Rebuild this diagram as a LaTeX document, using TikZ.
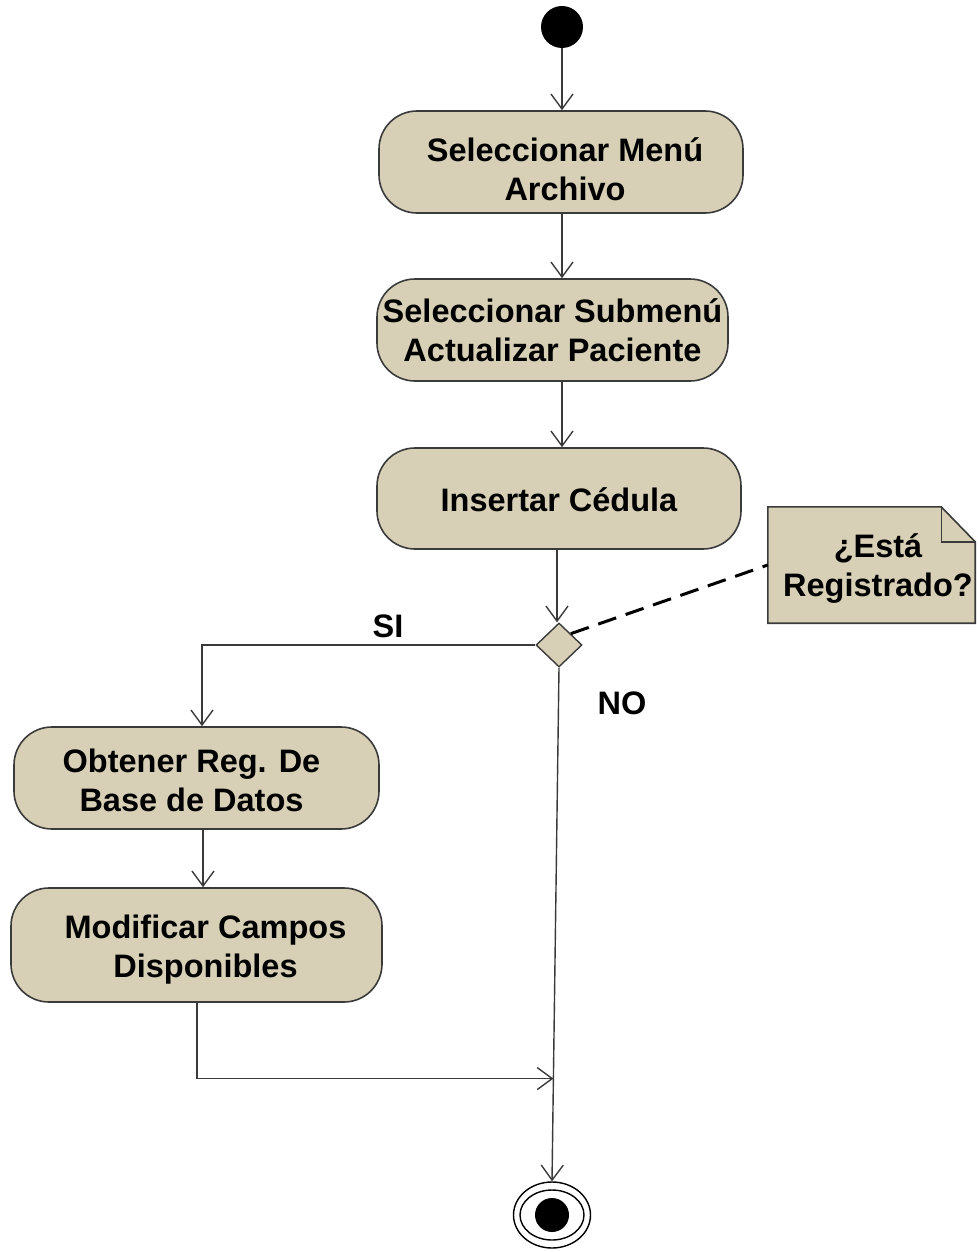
\documentclass[tikz,border=0pt]{standalone}
\usepackage{fontspec}
\setmainfont{Liberation Sans}
\usetikzlibrary{arrows.meta,shapes.geometric,calc}
\definecolor{actfill}{HTML}{D7D0B6}
\definecolor{edgegray}{HTML}{3A3A3A}
\begin{document}
\begin{tikzpicture}[x=1pt,y=-1pt,
  txt/.style={font=\fontsize{32.5}{39}\selectfont\bfseries, text=black, align=center},
  action/.style={draw=edgegray, line width=1.6pt, fill=actfill,
    rounded corners=38pt, inner sep=0pt},
  flow/.style={draw=edgegray, line width=1.4pt,
    -{Straight Barb[length=15pt,width=22pt,line width=1.4pt]}},
  decision/.style={diamond, draw=edgegray, line width=1.4pt, fill=actfill,
    minimum width=46pt, minimum height=44pt, inner sep=0pt},
  anchorline/.style={draw=black, line width=3pt, dash pattern=on 19pt off 10pt},
  guard/.style={txt}
]
\useasboundingbox (0,0) rectangle (977,1252);

% initial node
\node[circle, fill=black, minimum size=42pt, inner sep=0pt] (start) at (562,27) {};

% action boxes
\node[action, minimum width=364pt, minimum height=102pt] (b1) at (561,162) {};
\node[action, minimum width=351pt, minimum height=102pt] (b2) at (552.5,330) {};
\node[action, minimum width=364pt, minimum height=101pt] (b3) at (559,498.5) {};
\node[action, minimum width=365pt, minimum height=102pt] (b4) at (196.5,778) {};
\node[action, minimum width=371pt, minimum height=114pt] (b5) at (196.5,945) {};

% action labels
\node[txt] (t1) at ([xshift=4pt,yshift=-7pt]b1.center) {Seleccionar Menú\\Archivo};
\node[txt] (t2) at (b2.center) {Seleccionar Submenú\\Actualizar Paciente};
\node[txt] (t3) at ([yshift=-1pt]b3.center) {Insertar Cédula};
\node[txt] (t4) at ([xshift=-5pt,yshift=-2pt]b4.center) {Obtener Reg. De\\Base de Datos};
\node[txt] (t5) at ([xshift=9pt,yshift=-5pt]b5.center) {Modificar Campos\\Disponibles};

% decision
\node[decision] (dec) at (559,645) {};

% note with folded corner
\node[minimum width=207pt, minimum height=116pt, inner sep=0pt] (note) at (871.5,565) {};
\fill[actfill] (note.north west) -- ([xshift=-34pt]note.north east)
  -- ([yshift=-35pt]note.north east) -- (note.south east) -- (note.south west) -- cycle;
\draw[edgegray, line width=1.6pt, line join=miter]
  (note.north west) -- ([xshift=-34pt]note.north east)
  -- ([yshift=-35pt]note.north east) -- (note.south east) -- (note.south west) -- cycle;
\draw[edgegray, line width=1.4pt]
  ([xshift=-34pt]note.north east) -- ([xshift=-34pt,yshift=-35pt]note.north east)
  -- ([yshift=-35pt]note.north east);
\node[txt] (notetext) at (878,569) {¿Está\\Registrado?};

% final node
\node[ellipse, draw=black, line width=1.4pt, minimum width=77pt, minimum height=66pt,
  inner sep=0pt] (fin) at (552,1215) {};
\draw[black, line width=1.4pt] (fin.center) ellipse [x radius=32pt, y radius=25pt];
\fill[black] (fin.center) circle [radius=17pt];

% control flow
\draw[flow] (start) -- (start |- b1.north);
\draw[flow] (start |- b1.south) -- (start |- b2.north);
\draw[flow] (start |- b2.south) -- (start |- b3.north);
\draw[flow] ([xshift=-2pt]b3.south) -- ([xshift=-2pt]dec.north);
\draw[flow] (dec.west) -| ([xshift=5.5pt]b4.north);
\draw[flow] ([xshift=6.5pt]b4.south) -- ([xshift=6.5pt]b4.south |- b5.north);
\draw[flow] (dec.south) -- coordinate[pos=0.8] (merge) (fin.north);
\draw[flow] ([xshift=0.5pt]b5.south) |- (merge);

% note anchor
\draw[anchorline] (dec.north east) -- (note.west);

% guards
\node[guard] (si) at (388,626) {SI};
\node[guard] (no) at (622,703) {NO};
\end{tikzpicture}
\end{document}
